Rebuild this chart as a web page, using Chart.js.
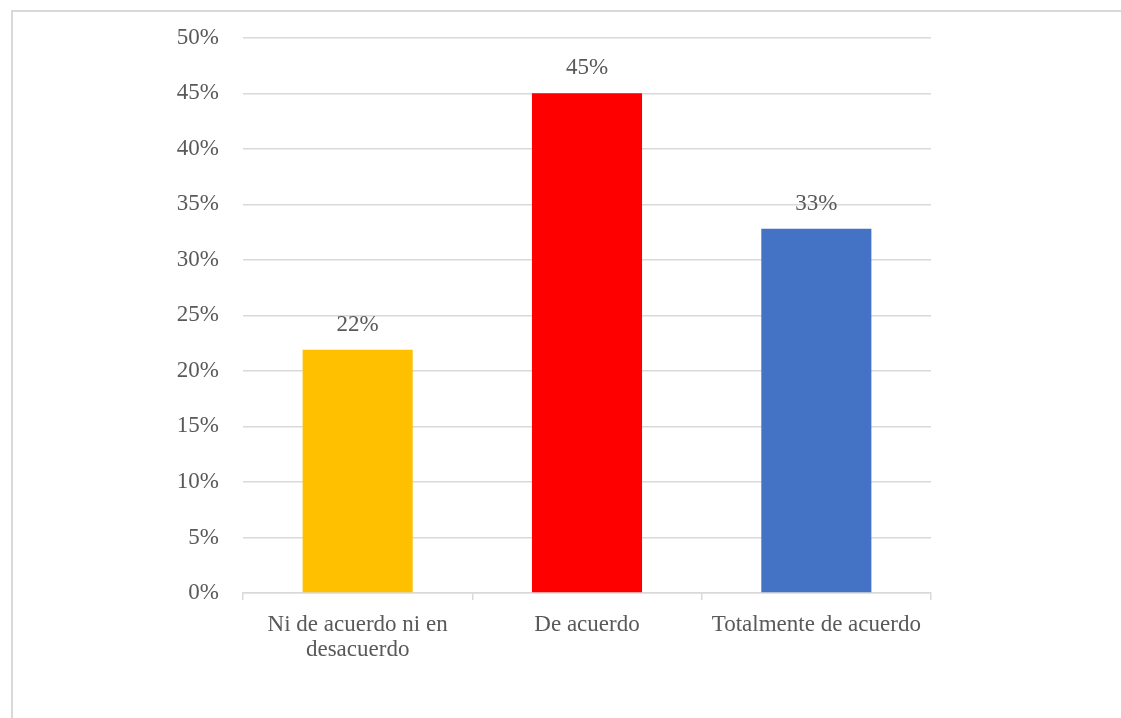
<!DOCTYPE html>
<html lang="es">
  <head>
    <meta charset="UTF-8" />
    <script src="https://cdn.jsdelivr.net/npm/chart.js"></script>
    <style>
      html, body { margin: 0; padding: 0; background: #fff; overflow: hidden; }
      #frame {
        position: absolute; left: 11px; top: 10px; width: 1200px; height: 800px;
        border-left: 2px solid #d9d9d9; border-top: 2px solid #d9d9d9;
        pointer-events: none;
      }
      canvas { position: absolute; left: 0; top: 0; }
    </style>
  </head>
  <body>
    <canvas id="grafico" width="1121" height="718"></canvas>
    <div id="frame"></div>

    <script>
      // datos del gráfico
      const categorias = [["Ni de acuerdo ni en", "desacuerdo"], "De acuerdo", "Totalmente de acuerdo"];
      const porcentajes = [21.9, 45, 32.8];
      const colores = ["#FFC000", "#FF0000", "#4472C4"];

      const fuente = { family: "'Liberation Serif', 'Times New Roman', serif", size: 23 };
      const gris = "#595959";

      // etiquetas encima de cada barra
      const etiquetas = {
        id: "etiquetas",
        afterDatasetsDraw(chart) {
          const ctx = chart.ctx;
          const meta = chart.getDatasetMeta(0);
          ctx.save();
          ctx.font = fuente.size + "px " + fuente.family;
          ctx.fillStyle = gris;
          ctx.textAlign = "center";
          ctx.textBaseline = "middle";
          meta.data.forEach((bar, i) => {
            ctx.fillText(Math.round(porcentajes[i]) + "%", bar.x, bar.y - 25);
          });
          ctx.restore();
        },
      };

      new Chart(document.getElementById("grafico"), {
        type: "bar",
        data: {
          labels: categorias,
          datasets: [
            {
              data: porcentajes,
              backgroundColor: colores,
              barPercentage: 0.48,
              categoryPercentage: 1,
            },
          ],
        },
        options: {
          responsive: false,
          animation: false,
          layout: { padding: { left: 0, top: 37, right: 190, bottom: 0 } },
          plugins: { legend: { display: false }, tooltip: { enabled: false } },
          scales: {
            x: {
              grid: { drawOnChartArea: false, drawTicks: true, tickLength: 7, color: "#d9d9d9", lineWidth: 1.5 },
              border: { color: "#d9d9d9", width: 1.5 },
              ticks: { color: gris, font: { ...fuente, lineHeight: 1.1 }, padding: 12, maxRotation: 0 },
              afterFit(scale) { scale.height = 125; },
            },
            y: {
              min: 0,
              max: 50,
              grid: { color: "#d9d9d9", lineWidth: 1.5, drawTicks: false },
              border: { display: false },
              ticks: {
                stepSize: 5,
                color: gris,
                font: fuente,
                padding: 24,
                callback: (v) => v + "%",
              },
              afterFit(scale) { scale.width = 243; },
            },
          },
        },
        plugins: [etiquetas],
      });
    </script>
  </body>
</html>
